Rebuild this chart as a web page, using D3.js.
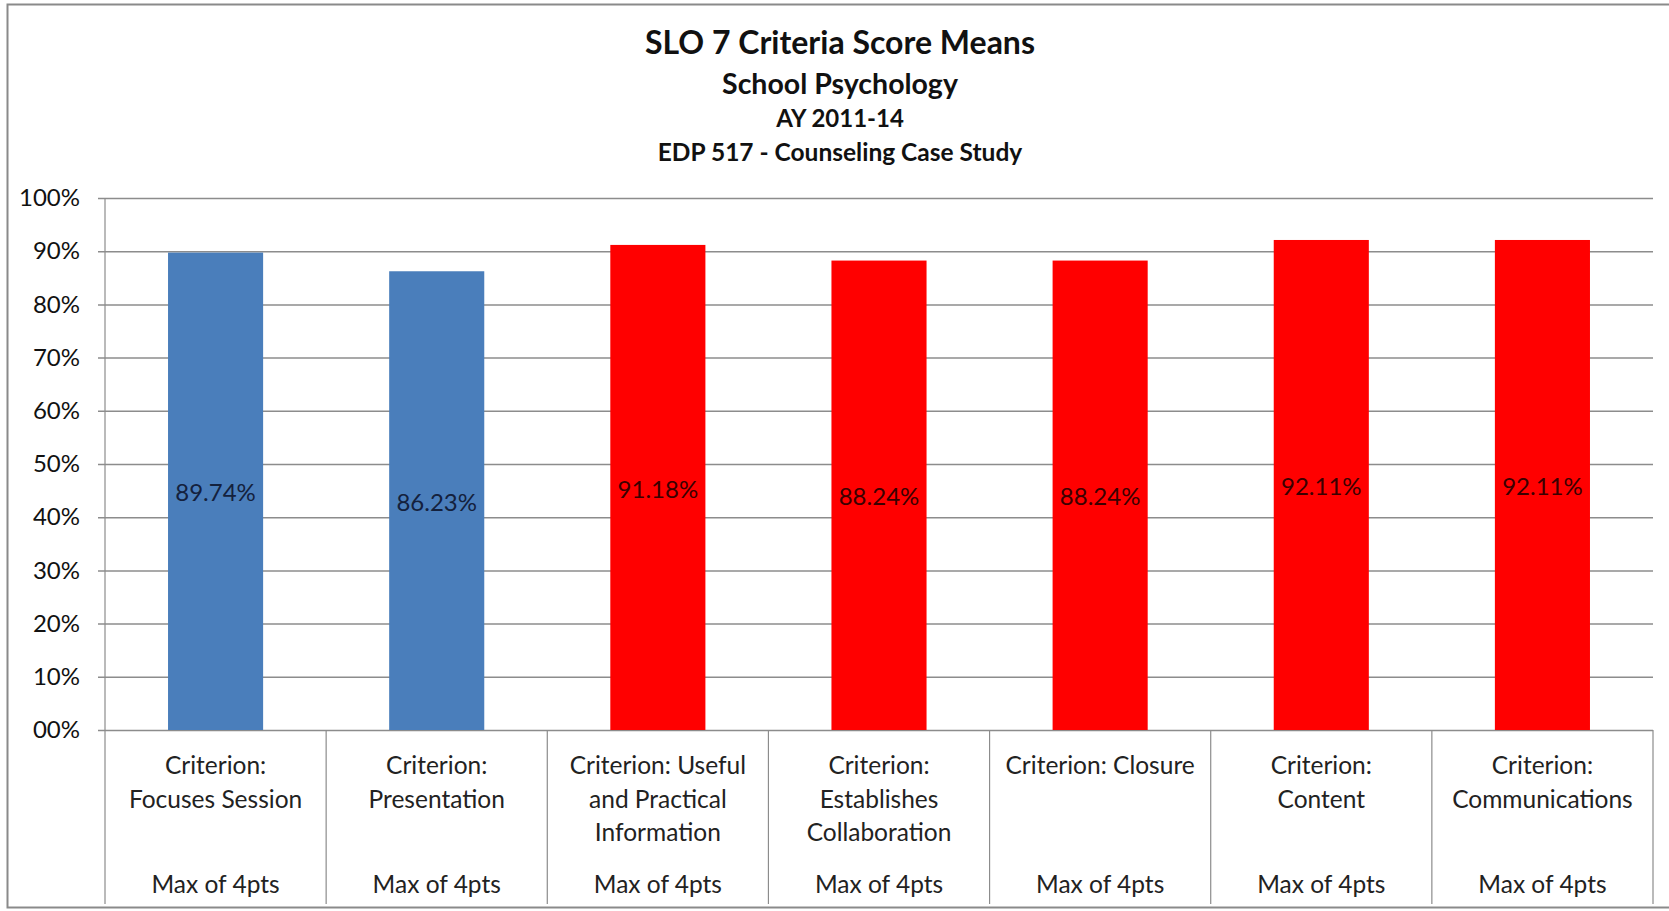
<!DOCTYPE html>
<html>
<head>
<meta charset="utf-8">
<script src="https://cdn.jsdelivr.net/npm/d3@7"></script>
<style>
  body { margin: 0; background: #fff; }
  svg text { font-family: Lato, "Open Sans", sans-serif; }
</style>
</head>
<body>
<div id="chart"></div>
<script>
var categories = ["Focuses Session", "Presentation", "Useful and Practical Information",
    "Establishes Collaboration", "Closure", "Content", "Communications"]
var labelLines = [
    ["Criterion:", "Focuses Session"],
    ["Criterion:", "Presentation"],
    ["Criterion: Useful", "and Practical", "Information"],
    ["Criterion:", "Establishes", "Collaboration"],
    ["Criterion: Closure"],
    ["Criterion:", "Content"],
    ["Criterion:", "Communications"]
]
var scores = [89.74, 86.23, 91.18, 88.24, 88.24, 92.11, 92.11]
var barColors = ["#4a7ebb", "#4a7ebb", "#ff0000", "#ff0000", "#ff0000", "#ff0000", "#ff0000"]
var yTicks = [0, 10, 20, 30, 40, 50, 60, 70, 80, 90, 100]
var maxNote = "Max of 4pts"
var titles = ["SLO 7 Criteria Score Means", "School Psychology", "AY 2011-14", "EDP 517 - Counseling Case Study"]

var W = 1669, H = 911
var margin = {top: 198, right: 16, bottom: 181, left: 105}
var width = W - margin.left - margin.right,
    height = H - margin.top - margin.bottom

var svg = d3.select("#chart").append("svg")
    .attr("width", W)
    .attr("height", H)

// outer frame
svg.append("rect")
    .attr("x", 7.5).attr("y", 4.5)
    .attr("width", W - 4).attr("height", 903)
    .attr("fill", "#fff")
    .attr("stroke", "#8a8a8a")
    .attr("stroke-width", 2)

// titles
var titleY = [46, 87, 121, 155]
var titleSize = [32, 28.5, 24, 24.5]
svg.selectAll(".title")
    .data(titles)
    .enter().append("text")
    .attr("class", "title")
    .attr("x", 840)
    .attr("y", function (d, i) { return titleY[i] })
    .attr("text-anchor", "middle")
    .attr("dominant-baseline", "middle")
    .attr("font-weight", "bold")
    .attr("font-size", function (d, i) { return titleSize[i] + "px" })
    .attr("fill", "#111")
    .text(function (d) { return d })

var g = svg.append("g")
    .attr("transform", "translate(" + margin.left + "," + margin.top + ")")

var x = d3.scaleBand()
    .domain(categories)
    .range([0, width])
    .paddingInner(0.57)
    .paddingOuter(0.285)

var xSep = d3.scaleBand()
    .domain(categories)
    .range([0, width])

var y = d3.scaleLinear().domain([0, 100]).range([height, 0])

// gridlines + y axis
var yAxis = g.append("g")
    .call(d3.axisLeft(y)
        .tickValues(yTicks)
        .tickSize(-width)
        .tickPadding(25)
        .tickFormat(function (d) { return (d < 10 ? "0" : "") + d + "%" }))
yAxis.select(".domain").remove()
yAxis.selectAll(".tick line")
    .attr("x1", -7)
    .attr("stroke", "#8c8c8c")
    .attr("stroke-width", 1.5)
yAxis.selectAll(".tick text")
    .attr("font-size", "24px")
    .attr("fill", "#111")
    .style("font-family", "Lato, sans-serif")

// category separators
var seps = categories.map(function (c) { return xSep(c) }).concat([width])
g.selectAll(".sep")
    .data(seps)
    .enter().append("line")
    .attr("class", "sep")
    .attr("x1", function (d) { return d })
    .attr("x2", function (d) { return d })
    .attr("y1", function (d, i) { return i === 0 ? 0 : height })
    .attr("y2", height + 174)
    .attr("stroke", "#8c8c8c")
    .attr("stroke-width", 1.2)

// bars
g.selectAll(".bar")
    .data(scores)
    .enter().append("rect")
    .attr("class", "bar")
    .attr("x", function (d, i) { return x(categories[i]) })
    .attr("y", function (d) { return y(d) })
    .attr("width", x.bandwidth())
    .attr("height", function (d) { return height - y(d) })
    .attr("fill", function (d, i) { return barColors[i] })

// value labels
g.selectAll(".val")
    .data(scores)
    .enter().append("text")
    .attr("class", "val")
    .attr("x", function (d, i) { return x(categories[i]) + x.bandwidth() / 2 })
    .attr("y", function (d) { return (y(d) + height) / 2 + 4 })
    .attr("text-anchor", "middle")
    .attr("dominant-baseline", "middle")
    .attr("font-size", "24px")
    .attr("fill", function (d, i) { return i < 2 ? "#14213d" : "#3a0000" })
    .text(function (d) { return d.toFixed(2) + "%" })

// category labels
var catG = g.selectAll(".cat")
    .data(categories)
    .enter().append("g")
    .attr("class", "cat")
    .attr("transform", function (d) {
        return "translate(" + (xSep(d) + xSep.bandwidth() / 2) + "," + height + ")"
    })

catG.each(function (d, i) {
    var sel = d3.select(this)
    labelLines[i].forEach(function (line, k) {
        sel.append("text")
            .attr("y", 38 + k * 33.5)
            .attr("text-anchor", "middle")
            .attr("dominant-baseline", "middle")
            .attr("font-size", "24.5px")
            .attr("fill", "#222")
            .text(line)
    })
    sel.append("text")
        .attr("y", 157)
        .attr("text-anchor", "middle")
        .attr("dominant-baseline", "middle")
        .attr("font-size", "24.5px")
        .attr("fill", "#222")
        .text(maxNote)
})
</script>
</body>
</html>
